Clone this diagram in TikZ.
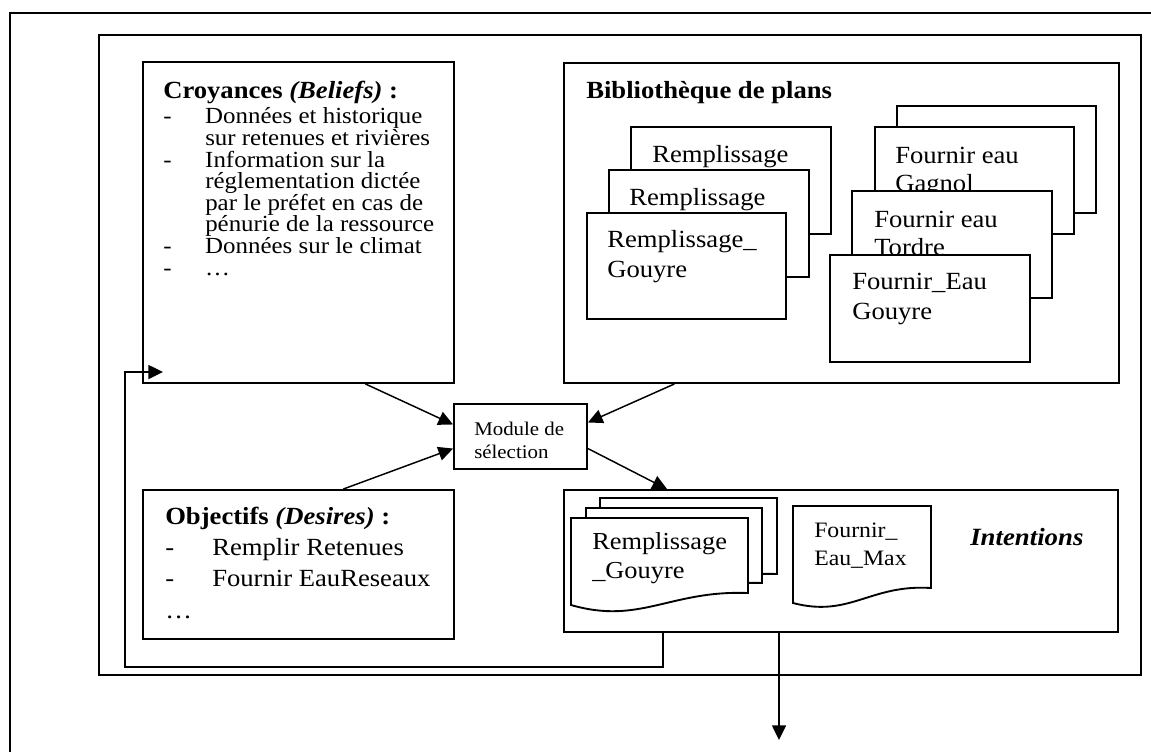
\documentclass[tikz,border=0pt]{standalone}
\usepackage{fontspec}
\setmainfont{Liberation Serif}[FakeStretch=1.08]
\usetikzlibrary{arrows.meta,calc,fit}

\begin{document}
\begin{tikzpicture}[x=0.75pt,y=0.75pt,yscale=-1,
  boite/.style={draw, line width=1.4pt, inner sep=0pt},
  carte/.style={draw, fill=white, line width=1.4pt, inner sep=0pt},
  txt/.style={anchor=base west, inner sep=0pt, align=left},
  fleche/.style={line width=1.1pt, -{Triangle[length=11pt,width=10.5pt]}}]
\useasboundingbox (0,0) rectangle (1151,751);
\clip (0,0) rectangle (1151,751);

%Straight Lines (outer frame, cut by the page)
\draw [line width=1.4pt] (10,800) -- (10,13) -- (1200,13) ;
%Shape: Rectangle (agent)
\draw [line width=1.4pt] (99,35) rectangle (1141,675) ;

%Shape: Rectangle (croyances)
\node [boite, fit={(143,62) (454,383)}] (croy) {};
% Text Node
\node [txt, font=\fontsize{18.5}{21}\selectfont] (croyT) at (163,98) {\textbf{Croyances \textit{(Beliefs)} :}};
% Text Node (multi-line: placed by its last baseline)
\node [txt, font=\fontsize{17.3}{16.2}\selectfont, execute at begin node={\lineskiplimit=-5pt}] (croyL) at (163,275)
  {\makebox[31.5pt][l]{-}Données et historique\\
   \hspace*{31.5pt}sur retenues et rivières\\
   \makebox[31.5pt][l]{-}Information sur la\\
   \hspace*{31.5pt}réglementation dictée\\
   \hspace*{31.5pt}par le préfet en cas de\\
   \hspace*{31.5pt}pénurie de la ressource\\
   \makebox[31.5pt][l]{-}Données sur le climat\\
   \makebox[31.5pt][l]{-}…};

%Shape: Rectangle (bibliotheque)
\node [boite, fit={(564,63) (1119,383)}] (bib) {};
% Text Node
\node [txt, font=\fontsize{18.5}{21}\selectfont] (bibT) at (586,98) {\textbf{Bibliothèque de plans}};

%Plans: Remplissage
\node [carte, fit={(631,127) (831,234)}] (remA) {};
\node [txt, font=\fontsize{18.5}{22}\selectfont] (remAT) at (652,162) {Remplissage};
\node [carte, fit={(609,170) (809,277)}] (remB) {};
\node [txt, font=\fontsize{18.5}{22}\selectfont] (remBT) at (629,205) {Remplissage};
\node [carte, fit={(587,213) (786,319)}] (remC) {};
\node [txt, font=\fontsize{18.5}{22}\selectfont] (remCT) at (607,277) {Remplissage\_\\Gouyre};

%Plans: Fournir eau
\node [carte, fit={(897,106) (1096,213)}] (fouA) {};
\node [carte, fit={(875,127) (1074,234)}] (fouB) {};
\node [txt, font=\fontsize{18.5}{21}\selectfont] (fouBT) at (895,191) {Fournir eau\\Gagnol};
\node [carte, fit={(852,191) (1052,298)}] (fouC) {};
\node [txt, font=\fontsize{18.5}{21}\selectfont] (fouCT) at (874,255) {Fournir eau\\Tordre};
\node [carte, fit={(830,255) (1030,362)}] (fouD) {};
\node [txt, font=\fontsize{18.5}{22}\selectfont] (fouDT) at (852,319) {Fournir\_Eau\\Gouyre};

%Shape: Rectangle (module)
\node [boite, fit={(454,404) (587,469)}] (mod) {};
% Text Node
\node [txt, font=\fontsize{14.5}{17.25}\selectfont] (modT) at (474,458) {Module de\\sélection};

%Shape: Rectangle (objectifs)
\node [boite, fit={(143,490) (454,639)}] (obj) {};
% Text Node
\node [txt, font=\fontsize{18.5}{23.5}\selectfont] (objT) at (165,618)
  {\textbf{Objectifs \textit{(Desires)} :}\\
   \makebox[35.25pt][l]{-}Remplir Retenues\\
   \makebox[35.25pt][l]{-}Fournir EauReseaux\\
   …};

%Shape: Rectangle (intentions)
\node [boite, fit={(564,490) (1118,632)}] (int) {};
%Shape: Documents
\draw [line width=1.4pt, fill=white] (600,498) -- (777,498) -- (777,574) .. controls (699,571) and (669,606) .. (600,586) -- cycle ;
\draw [line width=1.4pt, fill=white] (586,508) -- (762,508) -- (762,583) .. controls (684,580) and (654,615) .. (586,595) -- cycle ;
\draw [line width=1.4pt, fill=white] (571,518) -- (748,518) -- (748,593) .. controls (670,590) and (640,625) .. (571,605) -- cycle ;
\draw [line width=1.4pt, fill=white] (793,506) -- (931,506) -- (931,588) .. controls (870,584) and (850,618) .. (793,603) -- cycle ;
% Text Node
\node [txt, font=\fontsize{18.3}{21.75}\selectfont] (intR) at (592,578) {Remplissage\\\_Gouyre};
% Text Node
\node [txt, font=\fontsize{16.5}{21}\selectfont] (intF) at (814,565) {Fournir\_\\Eau\_Max};
% Text Node
\node [txt, font=\fontsize{18.6}{21}\selectfont] (intT) at (970,545) {\textbf{\textit{Intentions}}};

%Connectors
\coordinate (retour) at (125,667);
\coordinate (entree) at (163,372);
\coordinate (sortie) at (779,740);
\draw [fleche] ($(croy.south west)!.714!(croy.south east)$) -- ($(mod.north west)!.32!(mod.south west)$) ;
\draw [fleche] ($(bib.south west)!.2!(bib.south east)$) -- ($(mod.north east)!.29!(mod.south east)$) ;
\draw [fleche] ($(obj.north west)!.643!(obj.north east)$) -- ($(mod.north west)!.68!(mod.south west)$) ;
\draw [fleche] ($(mod.north east)!.68!(mod.south east)$) -- ($(int.north west)!.187!(int.north east)$) ;
\draw [fleche] ($(int.south west)!.18!(int.south east)$) |- (retour) |- (entree) ;
\draw [fleche] (int.south -| sortie) -- (sortie) ;
\end{tikzpicture}
\end{document}
